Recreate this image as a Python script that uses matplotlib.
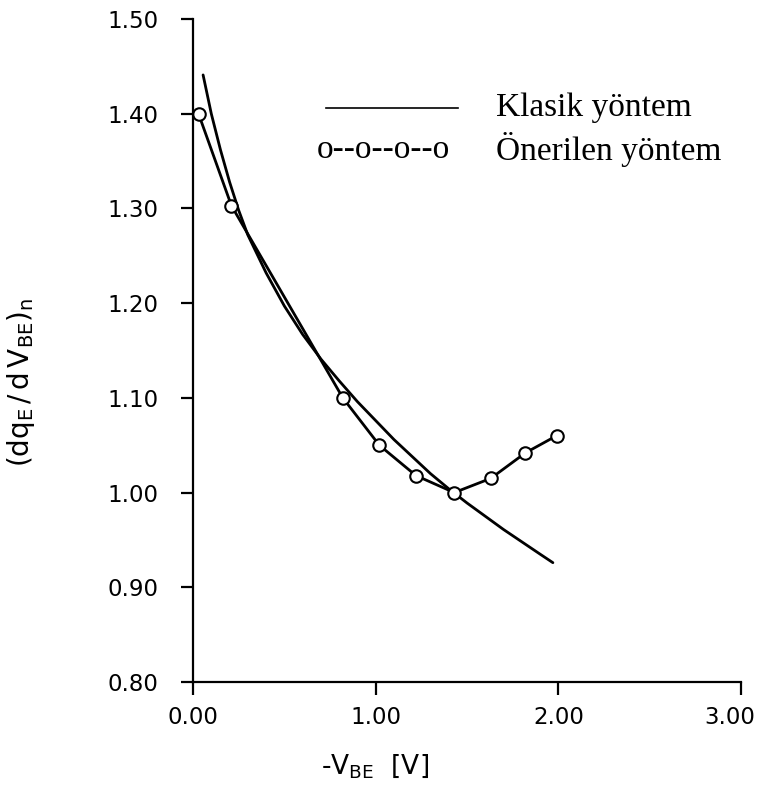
import matplotlib
matplotlib.use('Agg')
from matplotlib import pyplot as plt
from matplotlib.transforms import ScaledTranslation

# classic method curve
classic_x = [0.055, 0.10, 0.15, 0.20, 0.25, 0.30, 0.40, 0.50, 0.60, 0.70, 0.80, 0.90,
             1.00, 1.10, 1.20, 1.30, 1.40, 1.50, 1.60, 1.70, 1.80, 1.90, 1.97]
classic_y = [1.441, 1.400, 1.362, 1.328, 1.298, 1.272, 1.232, 1.197, 1.167, 1.141, 1.118, 1.096,
             1.076, 1.056, 1.038, 1.020, 1.004, 0.989, 0.975, 0.961, 0.948, 0.935, 0.926]

# proposed method points
prop_x = [0.03, 0.21, 0.82, 1.02, 1.22, 1.43, 1.63, 1.82, 1.99]
prop_y = [1.400, 1.303, 1.100, 1.050, 1.018, 1.000, 1.015, 1.042, 1.060]

xticks = [0.0, 1.0, 2.0, 3.0]
yticks = [0.80, 0.90, 1.00, 1.10, 1.20, 1.30, 1.40, 1.50]

plt.rcParams['mathtext.default'] = 'regular'

fig = plt.figure(figsize=(7.63, 7.90), dpi=100)
ax = fig.add_axes([0.253, 0.1367, 0.7182, 0.8392])

ax.plot(classic_x, classic_y, color='black', lw=2.0, solid_capstyle='round')
ax.plot(prop_x, prop_y, color='black', lw=2.0, marker='o', markersize=9,
        markerfacecolor='white', markeredgecolor='black', markeredgewidth=1.5)

ax.set_xlim(0, 3.0)
ax.set_ylim(0.80, 1.50)
ax.set_xticks(xticks)
ax.set_yticks(yticks)
ax.set_xticklabels(['%.2f' % v for v in xticks])
ax.set_yticklabels(['%.2f' % v for v in yticks])

for s in ['top', 'right']:
    ax.spines[s].set_visible(False)
for s in ['left', 'bottom']:
    ax.spines[s].set_linewidth(1.6)
ax.tick_params(axis='both', direction='out', length=9, width=1.6, labelsize=16.5)
ax.tick_params(axis='y', pad=16)
ax.tick_params(axis='x', pad=8)

# last x label sits a bit left of its tick, as in the scan
last = ax.get_xticklabels()[-1]
last.set_transform(last.get_transform() + ScaledTranslation(-0.11, 0, fig.dpi_scale_trans))

ax.set_xlabel(r'-$V_{BE}$  [V]', fontsize=19)
ax.xaxis.set_label_coords(0.332, -0.106)
ax.set_ylabel(r'$(dq_E\,/\,d\,V_{BE})_n$', fontsize=20)
ax.yaxis.set_label_coords(-0.285, 0.452)

# legend drawn by hand, like the figure
ax.plot([0.73, 1.45], [1.406, 1.406], color='black', lw=1.2)
ax.text(1.66, 1.406, 'Klasik yöntem', family='Liberation Serif', fontsize=24,
        va='center', ha='left')
ax.text(0.675, 1.362, 'o--o--o--o', family='Liberation Serif', fontsize=24,
        va='center', ha='left')
ax.text(1.66, 1.362, 'Önerilen yöntem', family='Liberation Serif', fontsize=24,
        va='center', ha='left')

fig.savefig('out.png', dpi=100)
